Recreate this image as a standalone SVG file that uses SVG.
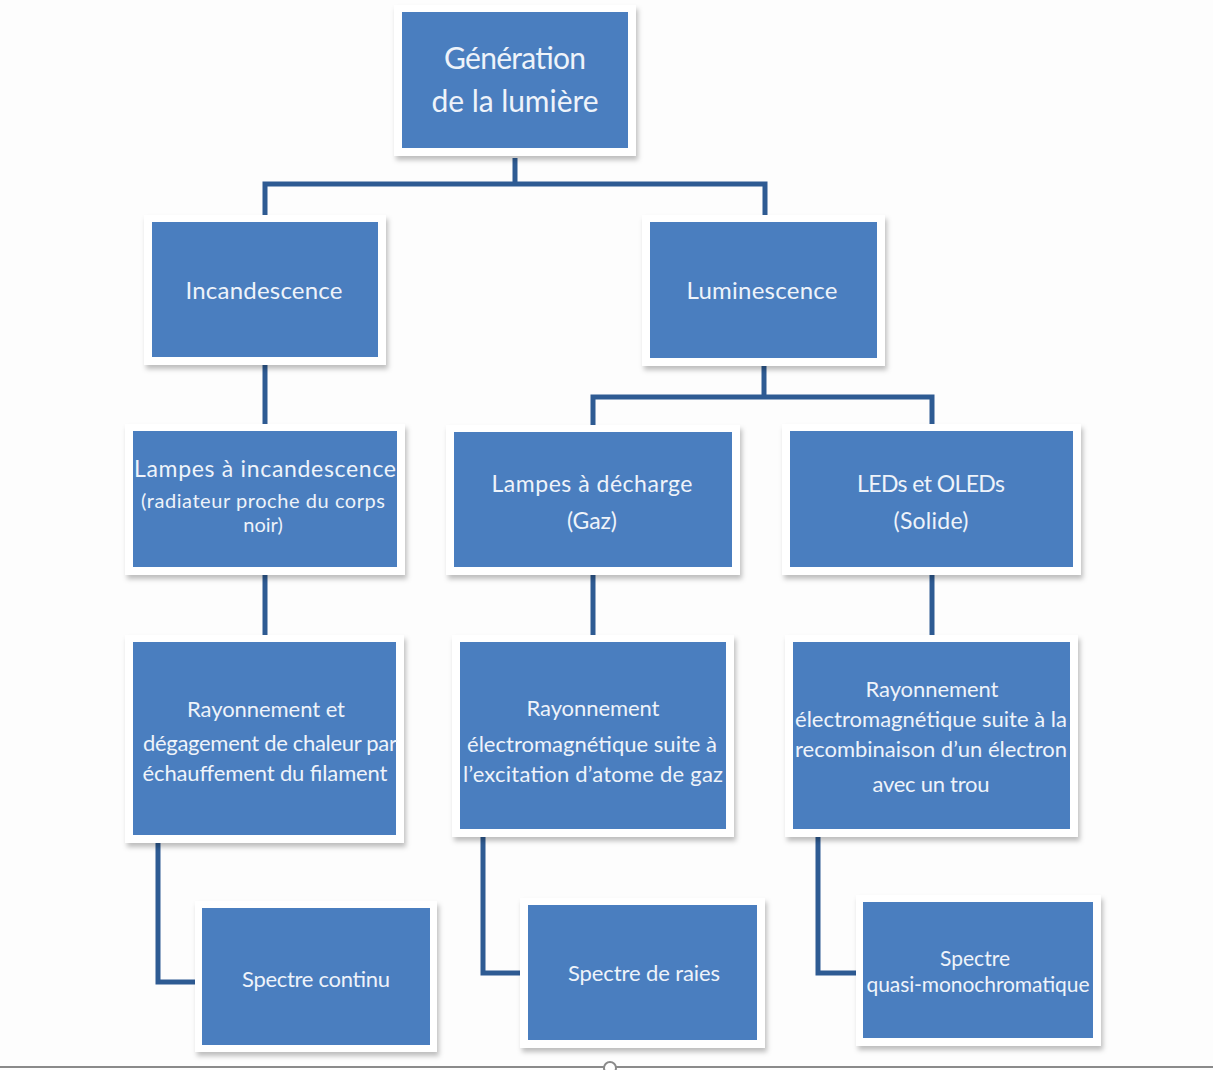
<svg xmlns="http://www.w3.org/2000/svg" width="1213" height="1070" viewBox="0 0 1213 1070">
<style>
.frame{fill:#ffffff;filter:url(#sh)}
.box{fill:#4a7ebf}
.t{font-family:Lato,"Liberation Sans",sans-serif;fill:#eef3fa;text-anchor:middle;dominant-baseline:central}
.conn{fill:none;stroke:#2e5b93;stroke-width:5}
</style>
<defs>
<filter id="sh" x="-10%" y="-10%" width="125%" height="130%">
<feDropShadow dx="2" dy="4" stdDeviation="2.5" flood-color="#000" flood-opacity="0.25"/>
</filter>
</defs>
<rect width="1213" height="1070" fill="#fdfdfd"/>
<g id="connectors">
<path class="conn" d="M515 158 V184"/>
<path class="conn" d="M265 216 V184 H765 V216"/>
<path class="conn" d="M265 362 V426"/>
<path class="conn" d="M764 364 V397"/>
<path class="conn" d="M593 426 V397 H932 V426"/>
<path class="conn" d="M265 575 V636"/>
<path class="conn" d="M593 575 V636"/>
<path class="conn" d="M932 575 V636"/>
<path class="conn" d="M158 843 V982 H197"/>
<path class="conn" d="M483 837 V973 H522"/>
<path class="conn" d="M818 837 V973 H858"/>
</g>
<g id="n-generation">
<rect class="frame" x="394" y="5" width="242" height="151"/>
<rect class="box" x="402" y="12" width="226" height="136"/>
<text class="t" x="515" y="57" font-size="30" textLength="142">Génération</text>
<text class="t" x="515" y="100" font-size="30" textLength="167">de la lumière</text>
</g>
<g id="n-incandescence">
<rect class="frame" x="144" y="215" width="242" height="150"/>
<rect class="box" x="152" y="222" width="226" height="135"/>
<text class="t" x="264" y="289" font-size="24" textLength="157">Incandescence</text>
</g>
<g id="n-luminescence">
<rect class="frame" x="642" y="215" width="243" height="151"/>
<rect class="box" x="650" y="222" width="227" height="136"/>
<text class="t" x="762" y="289" font-size="24" textLength="151">Luminescence</text>
</g>
<g id="n-lampes-incandescence">
<rect class="frame" x="125" y="424" width="280" height="151"/>
<rect class="box" x="133" y="431" width="264" height="136"/>
<text class="t" x="265" y="468" font-size="23" textLength="262">Lampes à incandescence</text>
<text class="t" x="263" y="500" font-size="20" textLength="244">(radiateur proche du corps</text>
<text class="t" x="263" y="524" font-size="20">noir)</text>
</g>
<g id="n-lampes-decharge">
<rect class="frame" x="446" y="425" width="294" height="150"/>
<rect class="box" x="454" y="432" width="278" height="135"/>
<text class="t" x="592" y="483" font-size="23" textLength="201">Lampes à décharge</text>
<text class="t" x="592" y="520" font-size="23" textLength="50">(Gaz)</text>
</g>
<g id="n-leds">
<rect class="frame" x="782" y="424" width="299" height="151"/>
<rect class="box" x="790" y="431" width="283" height="136"/>
<text class="t" x="931" y="483" font-size="23" textLength="148">LEDs et OLEDs</text>
<text class="t" x="931" y="520" font-size="23" textLength="75">(Solide)</text>
</g>
<g id="n-rayonnement-1">
<rect class="frame" x="125" y="635" width="279" height="208"/>
<rect class="box" x="133" y="642" width="263" height="193"/>
<text class="t" x="266" y="708" font-size="22" textLength="158">Rayonnement et</text>
<text class="t" x="270" y="742" font-size="22" textLength="254">dégagement de chaleur par</text>
<text class="t" x="265" y="772" font-size="22" textLength="245">échauffement du filament</text>
</g>
<g id="n-rayonnement-2">
<rect class="frame" x="452" y="635" width="282" height="202"/>
<rect class="box" x="460" y="642" width="266" height="187"/>
<text class="t" x="593" y="707" font-size="22" textLength="133">Rayonnement</text>
<text class="t" x="592" y="743" font-size="22" textLength="250">électromagnétique suite à</text>
<text class="t" x="593" y="773" font-size="22" textLength="260">l’excitation d’atome de gaz</text>
</g>
<g id="n-rayonnement-3">
<rect class="frame" x="785" y="635" width="293" height="202"/>
<rect class="box" x="793" y="642" width="277" height="187"/>
<text class="t" x="932" y="688" font-size="22" textLength="133">Rayonnement</text>
<text class="t" x="931" y="718" font-size="22" textLength="272">électromagnétique suite à la</text>
<text class="t" x="931" y="748" font-size="22" textLength="272">recombinaison d’un électron</text>
<text class="t" x="931" y="783" font-size="22" textLength="117">avec un trou</text>
</g>
<g id="n-spectre-continu">
<rect class="frame" x="195" y="901" width="242" height="151"/>
<rect class="box" x="202" y="908" width="228" height="137"/>
<text class="t" x="316" y="978" font-size="22" textLength="148">Spectre continu</text>
</g>
<g id="n-spectre-raies">
<rect class="frame" x="520" y="898" width="245" height="150"/>
<rect class="box" x="528" y="905" width="229" height="135"/>
<text class="t" x="644" y="972" font-size="22" textLength="152">Spectre de raies</text>
</g>
<g id="n-spectre-quasi">
<rect class="frame" x="856" y="895" width="245" height="151"/>
<rect class="box" x="863" y="902" width="230" height="136"/>
<text class="t" x="975" y="957" font-size="21" textLength="70">Spectre</text>
<text class="t" x="978" y="983" font-size="21" textLength="223">quasi-monochromatique</text>
</g>
<line x1="0" y1="1067" x2="1213" y2="1067" stroke="#8a8a8a" stroke-width="2"/>
<circle cx="610" cy="1068" r="6" fill="#ffffff" stroke="#8a8a8a" stroke-width="2"/>
</svg>
